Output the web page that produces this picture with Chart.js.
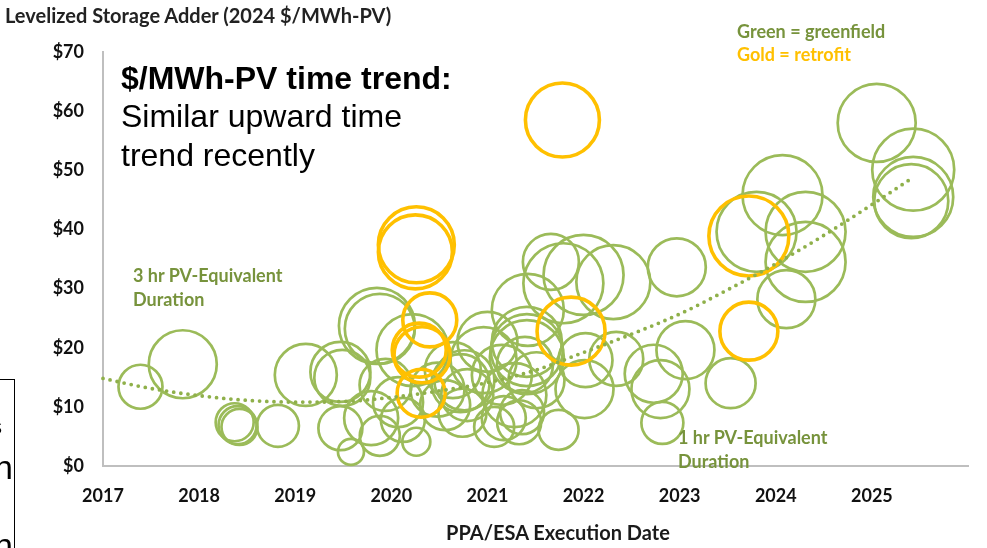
<!DOCTYPE html>
<html>
<head>
<meta charset="utf-8">
<script src="https://cdn.jsdelivr.net/npm/chart.js@4.4.1/dist/chart.umd.min.js"></script>
<style>
  html, body { margin: 0; padding: 0; background: #fff; }
  #wrap { position: relative; width: 987px; height: 548px; overflow: hidden; font-family: Lato, "Open Sans", sans-serif; }
  #c { position: absolute; left: 0; top: 0; }
  .lbl { position: absolute; white-space: nowrap; line-height: 1; }
  .calib { font-family: Lato, "Open Sans", sans-serif; font-weight: 700; }
  .arial { font-family: "Liberation Sans", Arial, sans-serif; font-size: 32px; line-height: 38.4px; color: #000; }
  .green { color: #77933C; }
  .gold { color: #FFC000; }
  #sidebox { position: absolute; left: -20px; top: 379px; width: 33px; height: 200px; border: 1.5px solid #000; overflow: hidden; font-family: "Liberation Sans", Arial, sans-serif; font-size: 34px; color: #000; }
  #sidebox span { position: absolute; right: 1px; line-height: 1; }
</style>
</head>
<body>
<div id="wrap">
  <canvas id="c" width="987" height="548"></canvas>

  <div class="lbl calib" style="left:5px;top:5px;font-size:20px;color:#222;">Levelized Storage Adder (2024 $/MWh-PV)</div>

  <div class="lbl arial" style="left:121px;top:59px;">
    <b>$/MWh-PV time trend:</b><br>Similar upward time<br>trend recently
  </div>

  <div class="lbl calib green" style="left:737px;top:22px;font-size:18px;">Green = greenfield</div>
  <div class="lbl calib gold" style="left:737px;top:45px;font-size:18px;">Gold = retrofit</div>

  <div class="lbl calib green" style="left:133px;top:263px;font-size:18px;line-height:24px;">3 hr PV-Equivalent<br>Duration</div>
  <div class="lbl calib green" style="left:678px;top:425px;font-size:18px;line-height:24px;">1 hr PV-Equivalent<br>Duration</div>

  <div class="lbl calib" style="left:446px;top:522px;font-size:20px;color:#1a1a1a;">PPA/ESA Execution Date</div>

  <div id="sidebox">
    <span style="top:36px;font-size:22px;right:12px;">s</span>
    <span style="top:70px;">n</span>
    <span style="top:148px;">n</span>
  </div>
</div>

<script>
// Greenfield projects: execution date (decimal year), levelized adder ($/MWh-PV), bubble size
const greenYear = [
  2017.39, 2017.83, 2018.37, 2018.40, 2018.42, 2018.82, 2019.11, 2019.47, 2019.49, 2019.47,
  2019.58, 2019.85, 2019.88, 2019.79, 2019.94, 2019.88, 2020.22, 2020.07, 2020.26, 2020.48,
  2020.64, 2020.72, 2020.76, 2020.74, 2020.79, 2021.00, 2020.96, 2021.07, 2021.15, 2021.17,
  2021.28, 2021.33, 2021.39, 2021.36, 2021.42, 2021.41, 2021.41, 2021.41, 2021.51, 2021.66,
  2022.00, 2021.79, 2022.31, 2022.97, 2021.74, 2022.02, 2022.01, 2022.34, 2022.73, 2022.80,
  2022.82, 2023.06, 2023.53, 2023.80, 2024.07, 2024.31, 2024.31, 2024.11, 2025.05, 2025.43,
  2025.43, 2025.41, 2020.56, 2020.12
];
const greenValue = [
  13.4, 17.2, 7.4, 6.9, 6.6, 6.8, 15.4, 15.9, 14.9, 6.4,
  2.4, 23.7, 23.2, 8.1, 13.7, 5.1, 19.6, 10.8, 4.1, 12.9,
  16.2, 14.0, 14.5, 9.0, 12.0, 21.0, 17.9, 6.6, 15.4, 8.1,
  12.0, 7.4, 17.1, 9.1, 26.4, 21.0, 19.6, 18.4, 14.5, 34.5,
  32.3, 30.9, 31.1, 33.6, 6.1, 17.9, 13.0, 18.1, 15.6, 13.0,
  7.3, 19.6, 14.0, 39.6, 45.8, 39.6, 34.5, 28.2, 58.0, 50.1,
  45.5, 44.8, 10.3, 7.8
];
const greenSize = [
  22, 34, 19, 19, 18, 21, 31, 30, 28, 22,
  13, 38, 35, 27, 26, 20, 36, 25, 14, 27,
  28, 29, 30, 24, 26, 30, 33, 20, 30, 22,
  32, 22, 28, 22, 36, 35, 36, 37, 28, 28,
  40, 40, 37, 29, 20, 27, 29, 27, 29, 29,
  21, 29, 25, 40, 40, 40, 40, 29, 39, 41,
  40, 37, 25, 22
];

// Retrofit projects
const goldYear  = [2021.78, 2020.26, 2020.25, 2020.40, 2020.32, 2020.29, 2020.31, 2021.87, 2023.72, 2023.72];
const goldValue = [58.5, 37.4, 36.2, 24.7, 18.8, 19.6, 12.3, 22.8, 38.9, 22.8];
const goldSize  = [37, 38, 37, 27, 28, 27, 24, 34, 40, 29];

// Polynomial trend line, sampled along the date axis
const trendYear  = [2017.0, 2017.5, 2018.0, 2018.5, 2019.0, 2019.5, 2020.0, 2020.5, 2021.0,
                    2021.5, 2022.0, 2022.5, 2023.0, 2023.5, 2024.0, 2024.5, 2025.0, 2025.42];
const trendValue = [14.8, 13.1, 11.9, 11.1, 10.8, 10.9, 11.6, 12.7, 14.1,
                    16.2, 19.2, 22.3, 25.7, 29.8, 34.2, 39.0, 44.2, 48.7];

// Axis labels
const yearLabels = [2017, 2018, 2019, 2020, 2021, 2022, 2023, 2024, 2025];
const dollarTicks = [0, 10, 20, 30, 40, 50, 60, 70];

const GREEN = '#9BBB59';
const GOLD = '#FFC000';
const AXIS = '#BFBFBF';

const greenPts = greenYear.map((x, i) => ({ x, y: greenValue[i], r: greenSize[i] }));
const goldPts = goldYear.map((x, i) => ({ x, y: goldValue[i], r: goldSize[i] }));
const trendPts = trendYear.map((x, i) => ({ x, y: trendValue[i] }));

const tickFont = { family: 'Lato', weight: 'bold', size: 18 };

new Chart(document.getElementById('c').getContext('2d'), {
  type: 'bubble',
  data: {
    datasets: [
      {
        type: 'line',
        label: 'Trend',
        data: trendPts,
        borderColor: '#8FB04A',
        borderWidth: 3.8,
        borderDash: [0, 7.2],
        borderCapStyle: 'round',
        pointRadius: 0,
        cubicInterpolationMode: 'monotone',
        fill: false,
        order: 0,
        clip: false
      },
      {
        label: 'Gold = retrofit',
        data: goldPts,
        backgroundColor: 'rgba(0,0,0,0)',
        borderColor: GOLD,
        borderWidth: 3.6,
        order: 1,
        clip: false
      },
      {
        label: 'Green = greenfield',
        data: greenPts,
        backgroundColor: 'rgba(0,0,0,0)',
        borderColor: GREEN,
        borderWidth: 2.7,
        order: 2,
        clip: false
      }
    ]
  },
  options: {
    responsive: false,
    animation: false,
    events: [],
    layout: { autoPadding: false, padding: { top: 52, right: 14, left: 0, bottom: 0 } },
    plugins: { legend: { display: false }, tooltip: { enabled: false } },
    scales: {
      x: {
        type: 'linear',
        position: 'bottom',
        min: 2017,
        max: 2026,
        afterFit(s) { s.height = 82; },
        grid: { display: false, drawTicks: false },
        border: { display: true, color: AXIS, width: 2 },
        ticks: {
          stepSize: 1,
          autoSkip: false,
          maxRotation: 0,
          padding: 19,
          color: '#111',
          font: tickFont,
          callback: v => yearLabels.includes(v) ? String(v) : ''
        }
      },
      y: {
        min: 0,
        max: 70,
        afterFit(s) { s.width = 103; },
        grid: { display: false, drawTicks: false },
        border: { display: true, color: AXIS, width: 2 },
        ticks: {
          stepSize: 10,
          padding: 19,
          color: '#111',
          font: tickFont,
          callback: v => dollarTicks.includes(v) ? '$' + v : ''
        }
      }
    }
  }
});
</script>
</body>
</html>
